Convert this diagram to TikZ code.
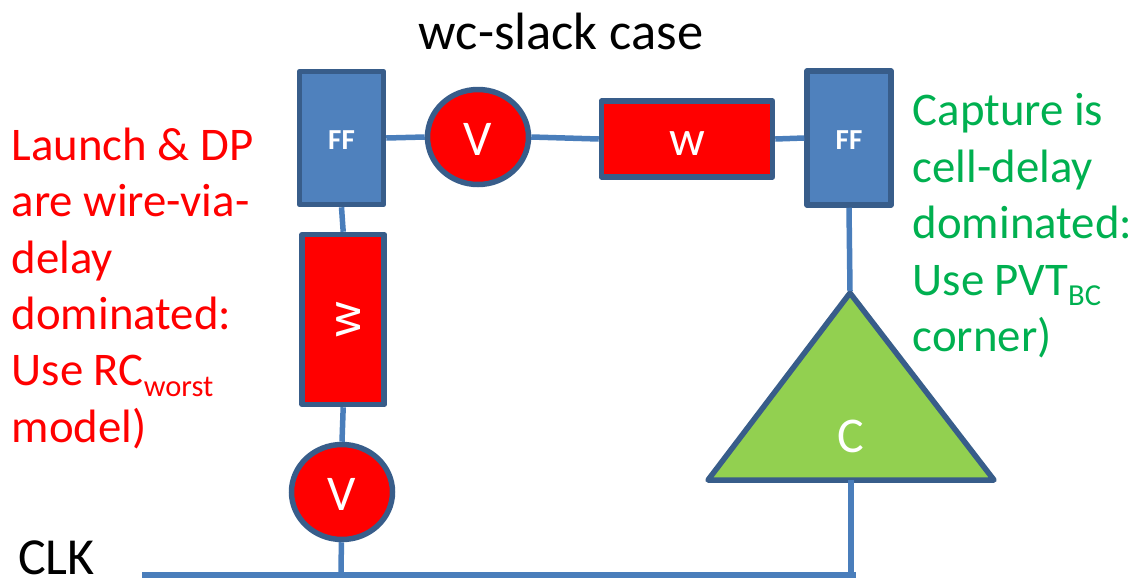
\documentclass[tikz,border=0pt]{standalone}
\usepackage{fontspec}
\setmainfont{Carlito}
\usetikzlibrary{shapes.geometric}
\definecolor{fillb}{HTML}{4F81BD}
\definecolor{lineb}{HTML}{385D8A}
\definecolor{wire}{HTML}{4A7EBB}
\definecolor{tgreen}{HTML}{00B050}
\definecolor{tri}{HTML}{92D050}
\newcommand{\lowtxt}[1]{{\fontsize{30.5}{30.5}\selectfont\raisebox{-10.5pt}{#1}}}
\tikzset{x=1pt,y=-1pt,
ff/.style={draw=lineb,fill=fillb,line width=5.5pt,line join=round,inner sep=0pt},
fftxt/.style={text=white,font=\fontsize{29}{29}\selectfont\bfseries,inner sep=0pt},
wbox/.style={draw=lineb,fill=red,line width=5.5pt,line join=round,inner sep=0pt},
wtxt/.style={text=white,font=\fontsize{50}{50}\selectfont,inner sep=0pt},
via/.style={ellipse,draw=lineb,fill=red,line width=5.5pt,inner sep=0pt},
conn/.style={draw=wire,line width=5.5pt},
lab/.style={anchor=north west,inner sep=0pt,align=left,font=\fontsize{46.8}{56.4}\selectfont}}
\begin{document}
\begin{tikzpicture}
\useasboundingbox (0,0) rectangle (1135,579);
\coordinate (c1) at (142,575);
\coordinate (c2) at (856,575);
\coordinate (j1) at (341,575);
\coordinate (j2) at (851,575);
\node[ff,minimum width=84,minimum height=133] (ff1) at (341.5,138) {};
\node[fftxt] (ff1t) at (341.5,140) {FF};
\node[ff,minimum width=84,minimum height=134] (ff2) at (849,138) {};
\node[fftxt] (ff2t) at (849,140) {FF};
\node[via,minimum width=101,minimum height=95] (v1) at (478,137) {};
\node[wtxt] (v1t) at (478,139) {V};
\node[via,minimum width=101,minimum height=95] (v2) at (342,492) {};
\node[wtxt] (v2t) at (342,494) {V};
\node[wbox,minimum width=171,minimum height=76] (w1) at (687,139) {};
\node[wtxt] (w1t) at (687,144) {w};
\node[wbox,minimum width=82,minimum height=170] (w2) at (343.2,319.5) {};
\node[wtxt,rotate=90] (w2t) at (349,320) {w};
\path[draw=lineb,fill=tri,line width=5.5pt,line join=round] (850,293) -- (994,480) -- (708,480) -- cycle;
\coordinate (tt) at (850,291);
\coordinate (tb) at (851,480);
\node[text=white,font=\fontsize{50}{50}\selectfont,inner sep=0pt] (cl) at (851,436) {C};
\draw[conn] (c1) -- (c2);
\draw[conn] (v2) -- (j1);
\draw[conn] (tb) -- (j2);
\draw[conn] (ff2.south) -- (tt);
\draw[conn] (v2.north) -- (w2.south);
\draw[conn] (w2.north) -- (ff1.south);
\draw[conn] (ff1.east) -- (v1.west);
\draw[conn] (v1.east) -- (w1.west);
\draw[conn] (w1.east) -- (ff2.west);
\node[font=\fontsize{52.5}{52.5}\selectfont,inner sep=0pt] (title) at (561,31) {wc-slack case};
\node[lab,text=red] (left) at (11.5,127.5) {Launch \& DP\\are wire-via-\\delay\\dominated:\\Use RC\lowtxt{worst}\\model)};
\node[lab,text=tgreen] (right) at (912.5,93.5) {Capture is\\cell-delay\\dominated:\\Use PVT\lowtxt{BC}\\corner)};
\node[font=\fontsize{52}{52}\selectfont,anchor=west,inner sep=0pt] (clk) at (18,557.5) {CLK};
\end{tikzpicture}
\end{document}
